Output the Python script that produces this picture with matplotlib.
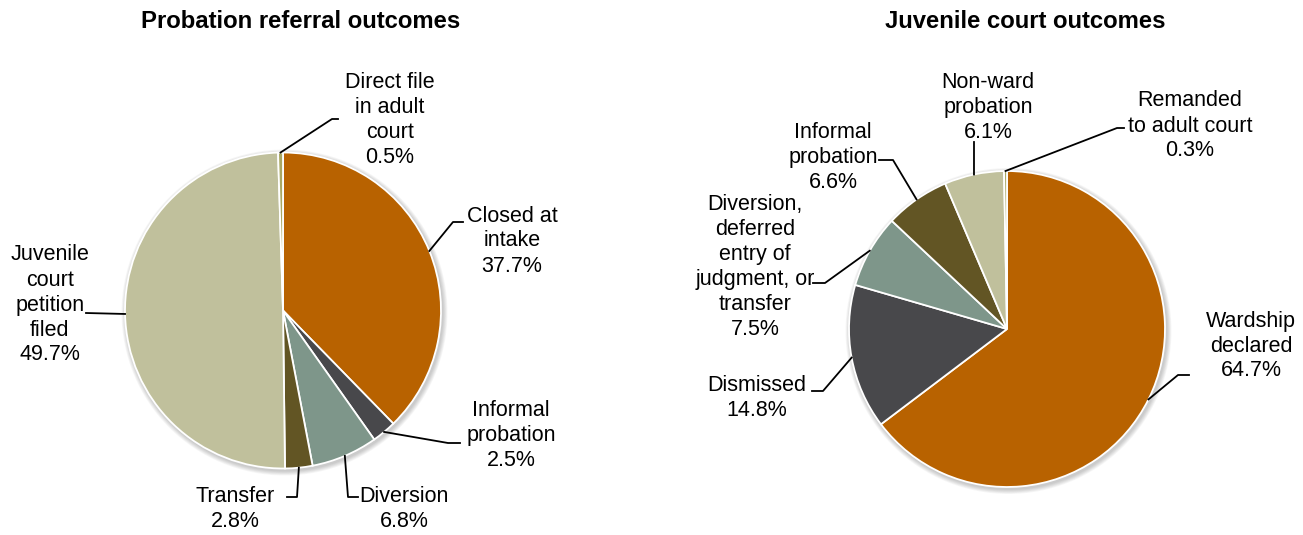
import numpy as np
import matplotlib.pyplot as plt
from matplotlib.patches import Circle

plt.rcParams['font.family'] = ['Liberation Sans', 'DejaVu Sans']

# data
left_labels = ['Closed at\nintake', 'Informal\nprobation', 'Diversion', 'Transfer',
               'Juvenile\ncourt\npetition\nfiled', 'Direct file\nin adult\ncourt']
left_values = [37.7, 2.5, 6.8, 2.8, 49.7, 0.5]
right_labels = ['Wardship\ndeclared', 'Dismissed',
                'Diversion,\ndeferred\nentry of\njudgment, or\ntransfer',
                'Informal\nprobation', 'Non-ward\nprobation', 'Remanded\nto adult court']
right_values = [64.7, 14.8, 7.5, 6.6, 6.1, 0.3]

colors = ['#B86200', '#48484B', '#7E968A', '#625524', '#C0C09C', '#A9A863']

W, H = 1303, 535


def Y(y):
    # pixel from top -> axes coordinate
    return H - y


def main():
    fig = plt.figure(figsize=(W / 100, H / 100), dpi=100)
    ax = fig.add_axes([0, 0, 1, 1])

    fs = 15.5
    ls = 1.25

    pies = [
        dict(c=(283, 310.5), r=158, vals=left_values, labs=left_labels,
             title='Probation referral outcomes', tx=301,
             text=[(512, 241), (511, 436), (404, 509), (235, 509), (50, 305), (390, 120)],
             elbow=[[(453, 222), (463, 222)], [(448, 443), (460, 443)],
                    [(348, 497), (358, 497)], [(297, 497), (287, 497)],
                    [(86, 313)], [(332, 119), (338, 119)]],
             ),
        dict(c=(1007, 329), r=158, vals=right_values, labs=right_labels,
             title='Juvenile court outcomes', tx=1025,
             text=[(1251, 346), (757, 398), (755, 267), (833, 158), (988, 107), (1190, 126)],
             elbow=[[(1178, 375), (1189, 375)], [(823, 391), (812, 391)],
                    [(825, 283), (813, 283)], [(893, 160), (879, 160)],
                    [(974, 142)], [(1117, 128), (1124, 128)]],
             ),
    ]

    for p in pies:
        cx, cy = p['c'][0], Y(p['c'][1])
        r = p['r']
        # soft shadow
        for k in range(6):
            ax.add_patch(Circle((cx + 1.5, cy - 2), r + 1 + k * 0.8, color='#000000',
                                alpha=0.035, lw=0, zorder=0))
        wedges, _ = ax.pie(p['vals'], colors=colors, startangle=90, counterclock=False,
                           center=(cx, cy), radius=r, frame=True,
                           wedgeprops=dict(edgecolor='white', linewidth=1.3))
        for w, lab, v, (tx, ty), el in zip(wedges, p['labs'], p['vals'], p['text'], p['elbow']):
            ang = np.deg2rad((w.theta1 + w.theta2) / 2)
            px, py = cx + r * np.cos(ang), cy + r * np.sin(ang)
            xs = [px] + [e[0] for e in el]
            ys = [py] + [Y(e[1]) for e in el]
            ax.plot(xs, ys, color='black', lw=1.3, zorder=5)
            ax.text(tx, Y(ty), f'{lab}\n{v}%', ha='center', va='center', fontsize=fs,
                    linespacing=ls, color='black')
        ax.text(p['tx'], Y(22), p['title'], ha='center', va='center', fontsize=17.2,
                fontweight='bold', color='black')

    ax.set_xlim(0, W)
    ax.set_ylim(0, H)
    ax.set_aspect('auto')
    ax.axis('off')
    fig.savefig('out.png', dpi=100)


if __name__ == '__main__':
    main()
